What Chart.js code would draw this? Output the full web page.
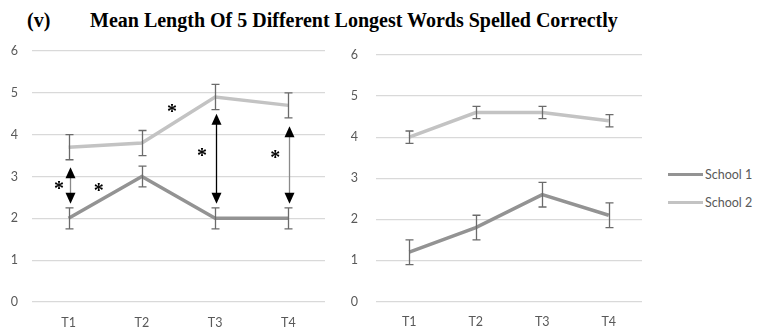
<!DOCTYPE html>
<html>
<head>
<meta charset="utf-8">
<script src="https://cdn.jsdelivr.net/npm/chart.js@4/dist/chart.umd.min.js"></script>
<style>
  html,body{margin:0;padding:0;background:#fff;}
  #wrap{position:relative;width:757px;height:327px;overflow:hidden;}
  #title{position:absolute;left:27px;top:9px;font-family:'Liberation Serif','Times New Roman',serif;font-weight:bold;font-size:20px;color:#000;white-space:nowrap;}
  #title span{display:inline-block;width:63px;}
  #leftBox{position:absolute;left:0;top:0;width:335px;height:327px;}
  #rightBox{position:absolute;left:340px;top:0;width:312px;height:327px;}
  #legend{position:absolute;left:668px;top:160px;font-family:Lato,'Liberation Sans',sans-serif;font-size:12.5px;color:#595959;}
  .item{display:flex;align-items:center;height:28px;}
  .swatch{width:35px;height:3px;margin-right:2px;}
</style>
</head>
<body>
<div id="wrap">
  <div id="title"><span>(v)</span>Mean Length Of 5 Different Longest Words Spelled Correctly</div>
  <div id="leftBox"><canvas id="leftChart"></canvas></div>
  <div id="rightBox"><canvas id="rightChart"></canvas></div>
  <div id="legend"></div>
</div>
<script>
const categories = ['T1', 'T2', 'T3', 'T4'];
const seriesNames = ['School 1', 'School 2'];
const seriesColors = ['#939393', '#c3c3c3'];

// left panel
const leftSchool1 = [2.0, 3.0, 2.0, 2.0];
const leftSchool1Err = [0.25, 0.25, 0.25, 0.25];
const leftSchool2 = [3.7, 3.8, 4.9, 4.7];
const leftSchool2Err = [0.3, 0.3, 0.3, 0.3];

// right panel
const rightSchool1 = [1.2, 1.8, 2.6, 2.1];
const rightSchool1Err = [0.3, 0.3, 0.3, 0.3];
const rightSchool2 = [4.0, 4.6, 4.6, 4.4];
const rightSchool2Err = [0.15, 0.15, 0.15, 0.15];

// significance marks on the left panel (category index, value)
const arrows = [
    {x: 0, from: 2.35, to: 3.22, shaft: '#8a8a8a'},
    {x: 2, from: 2.35, to: 4.5, shaft: '#000000'},
    {x: 3, from: 2.35, to: 4.2, shaft: '#8a8a8a'}
];
const stars = [
    {x: -0.13, y: 2.77},
    {x: 0.41, y: 2.72},
    {x: 1.41, y: 4.61},
    {x: 1.82, y: 3.56},
    {x: 2.82, y: 3.53}
];

Chart.defaults.font.family = 'Lato';
Chart.defaults.color = '#595959';

const errorBars = {
    id: 'errorBars',
    afterDatasetsDraw(chart) {
        const ctx = chart.ctx;
        const xs = chart.scales.x, ys = chart.scales.y;
        ctx.save();
        ctx.strokeStyle = '#6b6b6b';
        ctx.lineWidth = 1.3;
        chart.data.datasets.forEach(ds => {
            ds.data.forEach((v, i) => {
                const e = ds.errors[i];
                const px = Math.round(xs.getPixelForValue(i)) + 0.5;
                const top = ys.getPixelForValue(v + e);
                const bot = ys.getPixelForValue(v - e);
                ctx.beginPath();
                ctx.moveTo(px, top); ctx.lineTo(px, bot);
                ctx.moveTo(px - 4, top); ctx.lineTo(px + 4, top);
                ctx.moveTo(px - 4, bot); ctx.lineTo(px + 4, bot);
                ctx.stroke();
            });
        });
        ctx.restore();
    }
};

const marks = {
    id: 'marks',
    afterDatasetsDraw(chart) {
        const ctx = chart.ctx;
        const xs = chart.scales.x, ys = chart.scales.y;
        const step = xs.getPixelForValue(1) - xs.getPixelForValue(0);
        ctx.save();
        arrows.forEach(a => {
            const px = Math.round(xs.getPixelForValue(a.x)) + 1.5;
            const top = ys.getPixelForValue(a.to);
            const bot = ys.getPixelForValue(a.from);
            ctx.strokeStyle = a.shaft;
            ctx.lineWidth = 1.3;
            ctx.beginPath();
            ctx.moveTo(px, top + 8); ctx.lineTo(px, bot - 8);
            ctx.stroke();
            ctx.fillStyle = '#000';
            ctx.beginPath();
            ctx.moveTo(px, top); ctx.lineTo(px - 5, top + 11); ctx.lineTo(px + 5, top + 11);
            ctx.closePath(); ctx.fill();
            ctx.beginPath();
            ctx.moveTo(px, bot); ctx.lineTo(px - 5, bot - 11); ctx.lineTo(px + 5, bot - 11);
            ctx.closePath(); ctx.fill();
        });
        ctx.fillStyle = '#000';
        ctx.font = 'bold 20px "Liberation Serif"';
        ctx.textAlign = 'center';
        ctx.textBaseline = 'middle';
        stars.forEach(s => {
            const px = xs.getPixelForValue(0) + s.x * step;
            const py = ys.getPixelForValue(s.y);
            ctx.fillText('*', px, py + 4);
        });
        ctx.restore();
    }
};

function makeChart(id, s1, e1, s2, e2, yWidth, padTop, extra) {
    return new Chart(document.getElementById(id), {
        type: 'line',
        data: {
            labels: categories,
            datasets: [
                {label: seriesNames[0], data: s1, errors: e1, borderColor: seriesColors[0], borderWidth: 3.5, pointRadius: 0, tension: 0},
                {label: seriesNames[1], data: s2, errors: e2, borderColor: seriesColors[1], borderWidth: 3.5, pointRadius: 0, tension: 0}
            ]
        },
        options: {
            responsive: true,
            maintainAspectRatio: false,
            animation: false,
            layout: {padding: {top: padTop, right: 10, bottom: 0, left: 0}},
            plugins: {legend: {display: false}, tooltip: {enabled: false}},
            scales: {
                x: {
                    offset: true,
                    grid: {display: false},
                    border: {display: false},
                    ticks: {font: {size: 12.5}, color: '#595959', padding: 5},
                    afterFit(scale) { scale.height = 25; }
                },
                y: {
                    min: 0, max: 6,
                    ticks: {stepSize: 1, font: {size: 12.5}, color: '#595959', padding: yWidth - 18},
                    grid: {color: '#d9d9d9', lineWidth: 1.3, drawTicks: false},
                    border: {display: false},
                    afterFit(scale) { scale.width = yWidth; }
                }
            }
        },
        plugins: [errorBars].concat(extra)
    });
}

makeChart('leftChart', leftSchool1, leftSchool1Err, leftSchool2, leftSchool2Err, 32, 51, [marks]);
makeChart('rightChart', rightSchool1, rightSchool1Err, rightSchool2, rightSchool2Err, 36, 55, []);

const legend = document.getElementById('legend');
seriesNames.forEach((name, i) => {
    const row = document.createElement('div');
    row.className = 'item';
    row.innerHTML = '<div class="swatch" style="background:' + seriesColors[i] + '"></div>' + name;
    legend.appendChild(row);
});
</script>
</body>
</html>
